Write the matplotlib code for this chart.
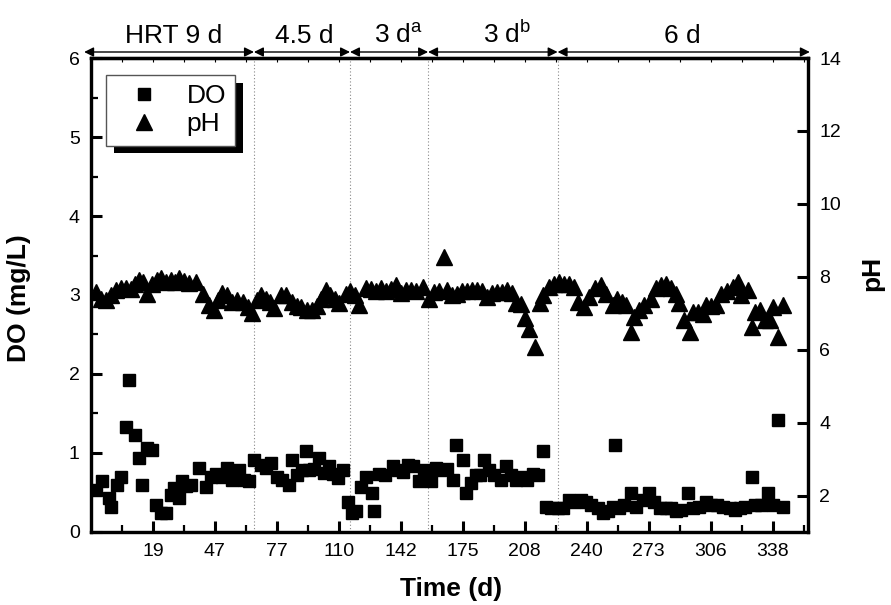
import matplotlib
matplotlib.use("Agg")
import matplotlib.pyplot as plt
from matplotlib.patches import Rectangle
from matplotlib.transforms import IdentityTransform

plt.rcParams["font.family"] = ["Liberation Sans", "DejaVu Sans"]
plt.rcParams["mathtext.fontset"] = "custom"
plt.rcParams["mathtext.rm"] = "Liberation Sans"

# x axis is the sample position; every 10th sample is labelled with its day
tick_pos = [10, 20, 30, 40, 50, 60, 70, 80, 90, 100, 110]
tick_days = ["19", "47", "77", "110", "142", "175", "208", "240", "273", "306", "338"]

# HRT periods (sample positions of the boundaries) and their labels
period_edges = [-1.1, 26.3, 41.8, 54.4, 75.3, 116.0]
period_labels = ["HRT 9 d", "4.5 d", r"3 d$^{\mathrm{a}}$", r"3 d$^{\mathrm{b}}$", "6 d"]
period_label_pos = [13.4, 34.4, 49.6, 67.2, 95.5]
period_lines = [26.3, 41.8, 54.4, 75.3]

do_pos = [0.75, 1.8, 2.9, 3.3, 4.2, 4.8, 5.6, 6.1, 7.1, 7.7, 8.3, 9.1, 9.9, 10.5, 11.3,
          12.1, 12.9, 13.4, 14.2, 14.7, 15.4, 16.1, 17.4, 18.5, 19.3, 20.1, 21.2, 22.0,
          22.8, 23.9, 24.7, 25.5,
          26.3, 27.4, 28.2, 29.0, 30.1, 30.9, 32.0, 32.5, 33.3, 34.0, 34.7, 35.2, 36.0,
          36.8, 37.6, 38.4, 39.1, 39.8, 40.6,
          41.4, 42.2, 42.8, 43.6, 44.4, 45.4, 45.7, 46.5, 47.5, 48.7, 49.5, 50.3, 51.1,
          51.9, 53.0, 53.8,
          54.9, 55.6, 56.4, 57.5, 58.4, 58.9, 60.0, 60.5, 61.3, 62.1, 62.8, 63.5, 64.3,
          65.1, 66.1, 67.0, 67.8, 68.6, 69.4, 70.3, 71.3, 72.1, 72.9,
          73.4, 74.2, 75.3, 76.1, 77.2, 78.0, 79.1, 79.9, 80.7, 81.8, 82.6, 83.4, 84.2,
          84.6, 85.2, 86.0, 87.2, 87.9, 89.0, 90.1, 90.9, 91.8, 92.8, 93.6, 94.4, 95.2,
          96.3, 97.1, 98.1, 99.2, 100.0, 101.1, 102.0, 103.1, 103.9, 104.8, 105.6, 106.6,
          107.1, 108.2, 109.3, 110.1, 110.9, 111.7]
do_val = [0.53, 0.64, 0.43, 0.32, 0.60, 0.70, 1.33, 1.93, 1.23, 0.94, 0.60, 1.06, 1.04, 0.34,
          0.24, 0.24, 0.47, 0.56, 0.43, 0.64, 0.58, 0.60, 0.81, 0.57, 0.70, 0.74, 0.70, 0.81,
          0.66, 0.78, 0.66, 0.64,
          0.91, 0.85, 0.81, 0.87, 0.70, 0.66, 0.60, 0.91, 0.72, 0.78, 1.02, 0.78, 0.80,
          0.94, 0.75, 0.83, 0.74, 0.68, 0.78,
          0.38, 0.24, 0.26, 0.57, 0.70, 0.49, 0.26, 0.74, 0.72, 0.83, 0.78, 0.76, 0.85,
          0.83, 0.64, 0.78,
          0.64, 0.81, 0.78, 0.80, 0.66, 1.10, 0.91, 0.49, 0.62, 0.72, 0.72, 0.91, 0.78,
          0.72, 0.66, 0.83, 0.72, 0.66, 0.70, 0.66, 0.74, 0.72, 1.02,
          0.32, 0.30, 0.30, 0.30, 0.40, 0.38, 0.40, 0.38, 0.34, 0.30, 0.24, 0.26, 0.32,
          1.10, 0.30, 0.34, 0.49, 0.32, 0.40, 0.49, 0.38, 0.30, 0.30, 0.30, 0.26, 0.28,
          0.49, 0.30, 0.32, 0.38, 0.34, 0.34, 0.32, 0.30, 0.28, 0.30, 0.32, 0.70,
          0.34, 0.34, 0.49, 0.34, 1.42, 0.32]

ph_pos = [0.75, 1.6, 2.4, 3.2, 4.0, 4.8, 5.6, 6.4, 7.1, 7.75, 8.4, 9.1, 9.9, 10.6, 11.3,
          12.1, 12.9, 13.6, 14.2, 15.0, 15.8, 16.9, 18.0, 19.1, 19.9, 20.5, 21.2, 22.0,
          22.8, 23.6, 24.5, 25.3, 26.0, 26.8, 27.4, 28.2, 28.9, 29.6, 30.6, 31.4, 32.5,
          33.2, 33.9, 34.9, 35.7, 36.4, 37.1, 37.9, 38.6, 39.3, 40.0, 41.1, 41.8, 42.6,
          43.3, 44.4, 45.2, 46.0, 46.8, 47.6, 48.4, 49.2, 50.0, 50.8, 51.6, 52.4, 53.5,
          54.6, 55.4, 56.2, 57.0, 57.5, 58.3, 59.1, 59.9, 60.7, 61.5, 62.3, 63.1, 63.9,
          64.7, 65.5, 66.3, 67.1, 67.9, 68.6, 69.4, 70.1, 70.7, 71.6, 72.4, 72.9, 73.9,
          74.7, 75.5, 76.3, 77.1, 77.9, 78.6, 79.6, 80.4, 81.3, 82.3, 83.1, 84.2, 84.9,
          85.7, 86.4, 87.2, 87.7, 88.5, 89.3, 90.4, 91.2, 92.0, 92.8, 93.6, 94.4, 94.9,
          95.7, 96.6, 97.1, 97.9, 98.7, 99.3, 100.1, 100.9, 101.7, 102.6, 103.6, 104.4,
          104.9, 106.0, 106.6, 107.1, 107.9, 108.7, 109.5, 110.1, 110.9, 111.7]
ph_val = [7.58, 7.40, 7.36, 7.50, 7.63, 7.68, 7.68, 7.66, 7.80, 7.90, 7.85, 7.54, 7.80, 7.90,
          7.96, 7.85, 7.90, 7.86, 7.96, 7.88, 7.84, 7.86, 7.54, 7.22, 7.08, 7.35, 7.55, 7.50,
          7.31, 7.36, 7.30, 7.17, 7.00, 7.35, 7.49, 7.40, 7.30, 7.13, 7.49, 7.49, 7.31,
          7.20, 7.17, 7.08, 7.08, 7.20, 7.40, 7.63, 7.50, 7.40, 7.27, 7.54, 7.60, 7.50,
          7.22, 7.68, 7.66, 7.62, 7.68, 7.60, 7.66, 7.77, 7.55, 7.63, 7.63, 7.60, 7.72,
          7.40, 7.58, 7.62, 8.54, 7.63, 7.50, 7.54, 7.60, 7.60, 7.63, 7.63, 7.60, 7.45,
          7.55, 7.58, 7.58, 7.63, 7.55, 7.27, 7.25, 6.86, 6.58, 6.08, 7.27, 7.49, 7.72,
          7.81, 7.85, 7.80, 7.81, 7.72, 7.31, 7.17, 7.45, 7.68, 7.77, 7.54, 7.22, 7.40,
          7.31, 7.22, 6.49, 6.90, 7.08, 7.22, 7.40, 7.68, 7.77, 7.81, 7.70, 7.54, 7.27,
          6.81, 6.49, 7.04, 7.04, 6.99, 7.22, 7.20, 7.22, 7.54, 7.60, 7.72, 7.86,
          7.49, 7.63, 6.62, 7.04, 7.10, 6.81, 6.81, 7.17, 6.35, 7.22]

fig = plt.figure(figsize=(8.91, 6.05), dpi=100)
ax = fig.add_axes([0.1021, 0.1207, 0.8047, 0.7834])
ax2 = ax.twinx()

do_line, = ax.plot(do_pos, do_val, ls="none", marker="s", ms=8.5, color="k", mec="k")
ph_line, = ax2.plot(ph_pos, ph_val, ls="none", marker="^", ms=11, color="k", mec="k")

for xv in period_lines:
    ax.axvline(xv, color="#888888", lw=0.8, ls=(0, (1, 2)), zorder=1)

ax.set_xlim(0, 115.7)
ax.set_ylim(0, 6)
ax2.set_ylim(1, 14)

ax.set_xticks(tick_pos)
ax.set_xticklabels(tick_days)
ax.set_xticks([p - 5 for p in tick_pos] + [tick_pos[-1] + 5], minor=True)
ax.set_yticks(range(0, 7))
ax.set_yticks([v + 0.5 for v in range(6)], minor=True)
ax2.set_yticks(range(2, 15, 2))

for a in (ax, ax2):
    for s in a.spines.values():
        s.set_linewidth(2.3)
ax.tick_params(which="major", direction="in", length=8, width=2.2, labelsize=14, pad=8)
ax.tick_params(which="minor", direction="in", length=5, width=1.6)
ax2.tick_params(which="major", direction="in", length=8, width=2.2, labelsize=14, pad=8)

# small ticks along the top edge
top = ax.secondary_xaxis("top")
top.set_xticks(list(range(5, 116, 5)))
top.tick_params(direction="in", length=3, width=0.8, labeltop=False)
top.spines["top"].set_linewidth(2.3)

ax.set_xlabel("Time (d)", fontsize=19, fontweight="bold")
ax.xaxis.set_label_coords(0.502, -0.094)
ax.set_ylabel("DO (mg/L)", fontsize=19, fontweight="bold")
ax.yaxis.set_label_coords(-0.083, 0.494)
ax2.set_ylabel("pH", fontsize=19, fontweight="bold")
ax2.yaxis.set_label_coords(1.073, 0.546)

# HRT period arrows above the plot
trans = ax.get_xaxis_transform()
for i, lab in enumerate(period_labels):
    x0, x1 = period_edges[i], period_edges[i + 1]
    ax.annotate("", xy=(x1, 1.0127), xytext=(x0, 1.0127), xycoords=trans, textcoords=trans,
                arrowprops=dict(arrowstyle="<|-|>", color="k", lw=1, mutation_scale=14,
                                shrinkA=0, shrinkB=0))
    ax.text(period_label_pos[i], 1.0316, lab, transform=trans, ha="center", va="baseline",
            fontsize=19)

leg = ax2.legend([do_line, ph_line], ["DO", "pH"], loc="upper left",
                 bbox_to_anchor=(0.021, 0.964), borderaxespad=0, fontsize=19,
                 fancybox=False, framealpha=1, edgecolor="#555555",
                 handlelength=2.2, handletextpad=0.5, borderpad=0.35, labelspacing=0.15)
leg.get_frame().set_linewidth(1)

# black drop shadow behind the legend box
fig.canvas.draw()
bb = leg.get_window_extent()
shadow = Rectangle((bb.x0 + 8, bb.y0 - 7.5), bb.width, bb.height, transform=IdentityTransform(),
                   facecolor="k", edgecolor="none", zorder=4.5, clip_on=False)
ax2.add_artist(shadow)

fig.savefig("out.png", dpi=100)
